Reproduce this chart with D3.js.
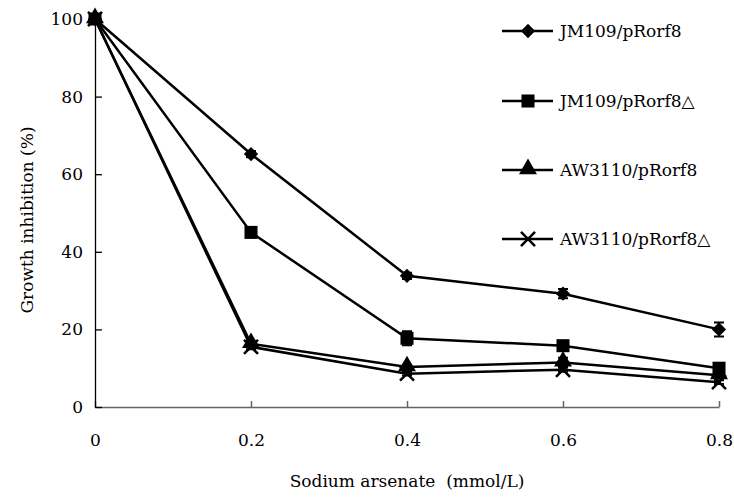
<!DOCTYPE html>
<html>
<head>
<meta charset="utf-8">
<script src="https://cdn.jsdelivr.net/npm/d3@7"></script>
<style>
  body { margin: 0; background: #fff; }
</style>
</head>
<body>
<svg id="chart" width="734" height="497"></svg>
<script>
// data
const doses = [0, 0.2, 0.4, 0.6, 0.8];
const seriesNames = ["JM109/pRorf8", "JM109/pRorf8\u25B3", "AW3110/pRorf8", "AW3110/pRorf8\u25B3"];
const seriesSymbols = ["diamond", "square", "triangle", "cross"];
const jm109 = [100, 65.2, 33.8, 29.2, 20.0];
const jm109Err = [0, 0.8, 0.8, 1.2, 1.8];
const jm109Delta = [100, 45.0, 17.7, 15.8, 10.0];
const jm109DeltaErr = [0, 0.8, 1.8, 1.0, 1.0];
const aw3110 = [100, 16.3, 10.3, 11.5, 8.2];
const aw3110Err = [0, 0.6, 0.6, 1.2, 0.6];
const aw3110Delta = [100, 15.5, 8.6, 9.6, 6.4];
const aw3110DeltaErr = [0, 0.6, 0.5, 0.5, 0.5];
const xTicks = [0, 0.2, 0.4, 0.6, 0.8];
const yTicks = [0, 20, 40, 60, 80, 100];

const allValues = [jm109, jm109Delta, aw3110, aw3110Delta];
const allErrors = [jm109Err, jm109DeltaErr, aw3110Err, aw3110DeltaErr];

const FONT = "'DejaVu Serif', serif";

const svg = d3.select("#chart").attr("font-family", FONT);

const x = d3.scaleLinear().domain([0, 0.8]).range([95, 719]);
const y = d3.scaleLinear().domain([0, 100]).range([407, 19]);

// x axis: grey line, ticks pointing up
const xAxis = svg.append("g")
  .attr("transform", "translate(0," + y(0) + ")")
  .call(d3.axisBottom(x).tickValues(xTicks).tickSizeInner(-6).tickSizeOuter(0)
    .tickFormat(d => d === 0 ? "0" : d3.format(".1f")(d)));
xAxis.attr("font-family", FONT).attr("font-size", 17);
xAxis.select(".domain").attr("stroke", "#666").attr("stroke-width", 1.5);
xAxis.selectAll(".tick line").attr("stroke", "#666").attr("stroke-width", 1.5);
xAxis.selectAll(".tick text")
  .attr("y", 27).attr("dy", "0.71em");

// y axis: black line, ticks pointing right
const yAxis = svg.append("g")
  .attr("transform", "translate(" + x(0) + ",0)")
  .call(d3.axisLeft(y).tickValues(yTicks).tickSizeInner(-7).tickSizeOuter(0));
yAxis.attr("font-family", FONT).attr("font-size", 17);
yAxis.select(".domain").attr("stroke", "#000").attr("stroke-width", 1.3);
yAxis.selectAll(".tick line").attr("stroke", "#000").attr("stroke-width", 1.3);
yAxis.selectAll(".tick text").attr("x", -12);

svg.append("text")
  .attr("x", x(0.4))
  .attr("y", 487)
  .attr("text-anchor", "middle")
  .attr("font-size", 17)
  .style("white-space", "pre")
  .text("Sodium arsenate  (mmol/L)");

svg.append("text")
  .attr("transform", "translate(33," + 220 + ") rotate(-90)")
  .attr("text-anchor", "middle")
  .attr("font-size", 17)
  .text("Growth inhibition (%)");

const line = d3.line()
  .x((d, i) => x(doses[i]))
  .y(d => y(d));

function drawSymbol(g, kind, cx, cy) {
  if (kind === "diamond") {
    g.append("path")
      .attr("d", d3.symbol().type(d3.symbolDiamond2).size(130)())
      .attr("transform", "translate(" + cx + "," + cy + ")")
      .attr("fill", "#000");
  } else if (kind === "square") {
    g.append("path")
      .attr("d", d3.symbol().type(d3.symbolSquare).size(170)())
      .attr("transform", "translate(" + cx + "," + cy + ")")
      .attr("fill", "#000");
  } else if (kind === "triangle") {
    g.append("path")
      .attr("d", d3.symbol().type(d3.symbolTriangle).size(140)())
      .attr("transform", "translate(" + cx + "," + (cy - 1) + ")")
      .attr("fill", "#000");
  } else {
    g.append("path")
      .attr("d", d3.symbol().type(d3.symbolTimes).size(130)())
      .attr("transform", "translate(" + cx + "," + cy + ")")
      .attr("fill", "none")
      .attr("stroke", "#000")
      .attr("stroke-width", 2.5);
  }
}

const plot = svg.append("g");

allValues.forEach((vals, s) => {
  plot.append("path")
    .datum(vals)
    .attr("d", line)
    .attr("fill", "none")
    .attr("stroke", "#000")
    .attr("stroke-width", 2.5);
});

allValues.forEach((vals, s) => {
  const g = plot.append("g");
  vals.forEach((v, i) => {
    const e = allErrors[s][i];
    const cx = x(doses[i]);
    if (e > 0) {
      g.append("path")
        .attr("d", "M" + (cx - 5) + "," + y(v + e) + "h10M" + cx + "," + y(v + e) +
          "V" + y(v - e) + "M" + (cx - 5) + "," + y(v - e) + "h10")
        .attr("fill", "none")
        .attr("stroke", "#000")
        .attr("stroke-width", 2);
    }
    drawSymbol(g, seriesSymbols[s], cx, y(v));
  });
});

// legend
const legendRows = [31, 101, 170, 239];
const legend = svg.append("g");
seriesNames.forEach((name, s) => {
  const ly = legendRows[s];
  legend.append("line")
    .attr("x1", 502).attr("x2", 553)
    .attr("y1", ly).attr("y2", ly)
    .attr("stroke", "#000").attr("stroke-width", 2.5);
  drawSymbol(legend, seriesSymbols[s], 528, ly);
  legend.append("text")
    .attr("x", 560)
    .attr("y", ly)
    .attr("dy", "0.35em")
    .attr("font-size", 17)
    .text(name);
});
</script>
</body>
</html>
